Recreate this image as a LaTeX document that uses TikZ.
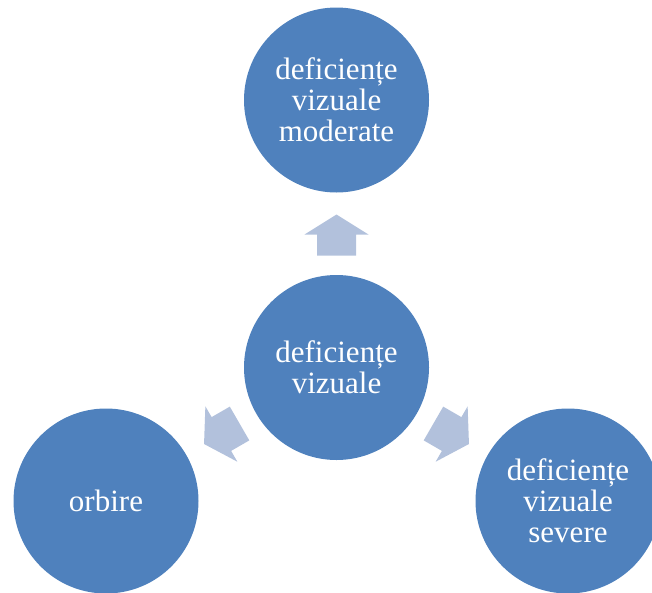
\documentclass[tikz,border=0pt]{standalone}
\usepackage{fontspec}
\setmainfont{Liberation Serif}
\definecolor{circblue}{HTML}{4F81BD}
\definecolor{arrblue}{HTML}{B2C1DC}
\begin{document}
\begin{tikzpicture}[x=1pt,y=-1pt,
  circ/.style={circle,fill=circblue,draw=none,minimum size=185pt,inner sep=0pt,
    text=white,align=center,font=\fontsize{31}{31}\selectfont},
  blockarrow/.style={fill=arrblue,draw=none}]
\useasboundingbox (0,0) rectangle (652,592);
\clip (0,0) rectangle (652,592);
\node[circ] (top) at (336.5,100) {deficiențe\\vizuale\\moderate};
\node[circ] (mid) at (336.5,367.5) {deficiențe\\vizuale};
\node[circ] (left) at (106,501) {orbire};
\node[circ] (right) at (568,501) {deficiențe\\vizuale\\severe};
\foreach \px/\py/\rot in {336.5/235/90, 221.8/433.75/210, 451.2/433.75/330}{
  \fill[blockarrow,shift={(\px,\py)},rotate=\rot]
    (-20.5,-19.5) -- (0.5,-19.5) -- (0.5,-32) -- (20.5,0) -- (0.5,32)
    -- (0.5,19.5) -- (-20.5,19.5) -- cycle;
}
\end{tikzpicture}
\end{document}
